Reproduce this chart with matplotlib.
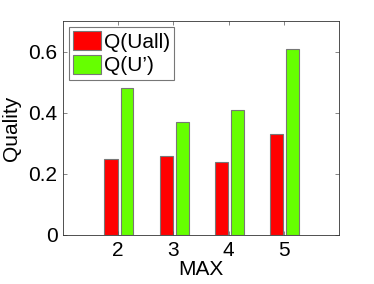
import numpy as np
import matplotlib
matplotlib.use('Agg')
import matplotlib.pyplot as plt

# Data
max_vals = [2, 3, 4, 5]
q_uall = [0.25, 0.26, 0.24, 0.33]
q_uprime = [0.48, 0.37, 0.41, 0.61]

plt.rcParams['font.family'] = ['Liberation Sans', 'DejaVu Sans']

fig = plt.figure(figsize=(3.74, 2.84), dpi=100)
ax = fig.add_axes([63 / 374, 1 - 235 / 284, 276 / 374, 214 / 284])

x = np.array(max_vals)
ax.bar(x - 0.13, q_uall, width=0.24, color='#ff0000', edgecolor='#777777', linewidth=0.8, label='Q(Uall)')
ax.bar(x + 0.16, q_uprime, width=0.23, color='#66ff00', edgecolor='#777777', linewidth=0.8, label="Q(U\u2019)")

ax.set_xlim(1, 6)
ax.set_ylim(0, 0.7)
ax.set_xticks(max_vals)
ax.set_yticks([0, 0.2, 0.4, 0.6])
ax.set_yticklabels(['0', '0.2', '0.4', '0.6'])
ax.tick_params(direction='in', top=True, right=True, labelsize=15, length=3, width=0.5,
               colors='#555555', labelcolor='black', pad=4)
for s in ax.spines.values():
    s.set_linewidth(0.6)
    s.set_color('#333333')

ax.set_xlabel('MAX', fontsize=15, labelpad=0)
ax.set_ylabel('Quality', fontsize=15, labelpad=5)

leg = ax.legend(loc='upper left', fontsize=15, frameon=True, fancybox=False, handlelength=1.3,
                handleheight=1.0, handletextpad=0.15, borderpad=0.2, labelspacing=0.15,
                borderaxespad=0.3)
leg.get_frame().set_edgecolor('#555555')
leg.get_frame().set_linewidth(0.8)

fig.savefig('out.png', dpi=100)
